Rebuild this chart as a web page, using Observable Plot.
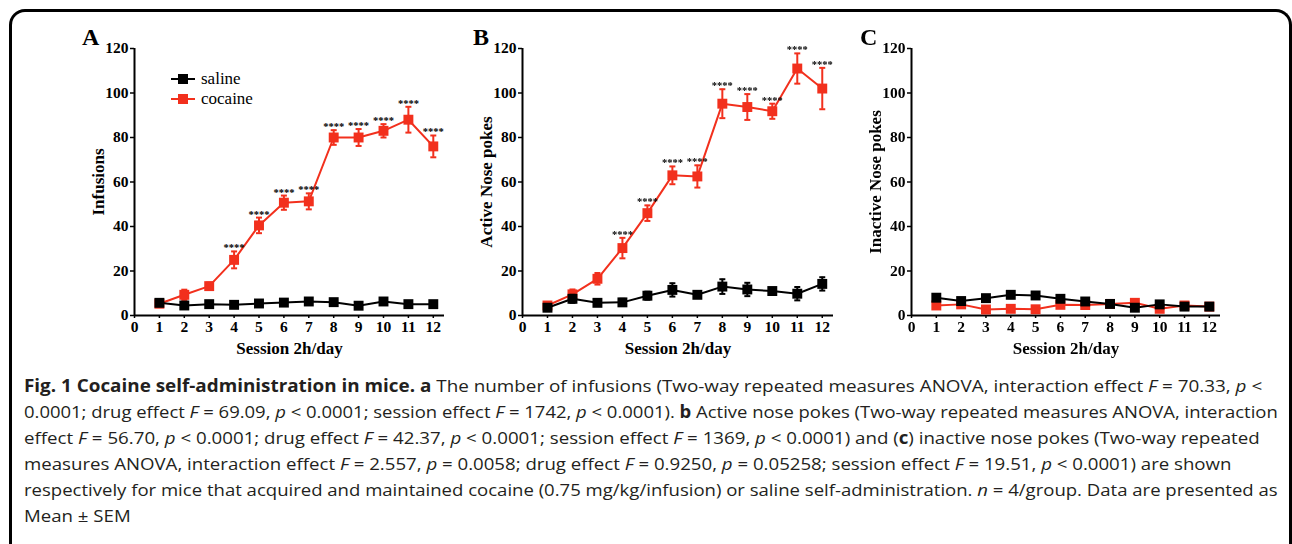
<!DOCTYPE html>
<html>
<head>
<meta charset="utf-8">
<script src="https://cdn.jsdelivr.net/npm/d3@7"></script>
<script src="https://cdn.jsdelivr.net/npm/@observablehq/plot@0.6"></script>
<style>
  html, body { margin: 0; padding: 0; background: #fff; }
  body { width: 1292px; height: 544px; position: relative; overflow: hidden; }
  #frame { position: absolute; left: 9px; top: 9px; width: 1277px; height: 600px;
    border: 3px solid #000; border-bottom: none; border-radius: 16px 16px 0 0; }
  .panel { position: absolute; top: 0; }
  .letter { position: absolute; font: bold 24px "Liberation Serif", serif; color: #000; }
  .legend { position: absolute; font: 17px "Liberation Serif", serif; color: #000; display: flex; align-items: center; height: 20px; }
  .legend .sw { position: relative; width: 24px; height: 20px; margin-right: 6px; }
  .legend .sw .ln { position: absolute; left: 0; right: 0; top: 9px; height: 2px; }
  .legend .sw .sq { position: absolute; left: 7px; top: 5px; width: 10px; height: 10px; }
  #caption { position: absolute; left: 24px; top: 373px; font-family: "Open Sans", sans-serif; font-size: 17px; line-height: 26px; color: #231f20; white-space: nowrap; }
  #caption .cl { display: block; height: 26px; }
  #caption .cl span.t { display: inline-block; transform-origin: 0 50%; }
  .stars { opacity: 0.99; }
</style>
</head>
<body>
<div id="frame"></div>
<div id="caption"></div>
<script>
const sessions = [1, 2, 3, 4, 5, 6, 7, 8, 9, 10, 11, 12];
const xTicks = [0, 1, 2, 3, 4, 5, 6, 7, 8, 9, 10, 11, 12];
const yTicks = [0, 20, 40, 60, 80, 100, 120];
const groups = ["saline", "cocaine"];
const colors = ["#000000", "#f2301d"];

// Panel A: infusions
const infSalineMean  = [5.7, 4.5, 5.1, 4.8, 5.4, 5.8, 6.3, 6.0, 4.4, 6.3, 5.1, 5.1];
const infSalineSem   = [1.0, 0.8, 0.8, 0.7, 0.8, 0.8, 0.9, 0.8, 0.8, 1.0, 0.8, 0.8];
const infCocaineMean = [5.3, 9.3, 13.2, 25.0, 40.5, 50.7, 51.3, 80.0, 80.0, 83.0, 88.0, 76.0];
const infCocaineSem  = [0.8, 2.3, 1.6, 3.8, 3.5, 3.2, 3.6, 3.3, 3.8, 3.0, 5.8, 4.9];
// Panel B: active nose pokes
const actSalineMean  = [3.5, 7.5, 5.7, 5.9, 8.9, 11.5, 9.3, 13.0, 11.7, 11.0, 9.8, 14.2];
const actSalineSem   = [1.5, 1.8, 1.0, 1.6, 1.8, 3.0, 1.3, 3.3, 3.0, 1.3, 3.0, 3.0];
const actCocaineMean = [4.5, 9.5, 16.5, 30.3, 46.0, 63.0, 62.5, 95.2, 93.7, 91.8, 111.0, 102.0];
const actCocaineSem  = [1.0, 2.2, 2.6, 4.6, 3.5, 4.0, 5.0, 6.5, 5.8, 3.4, 6.8, 9.3];
// Panel C: inactive nose pokes
const inaSalineMean  = [8.0, 6.5, 7.8, 9.3, 9.0, 7.5, 6.3, 5.2, 3.5, 5.0, 4.0, 4.0];
const inaSalineSem   = [1.3, 0.9, 0.9, 1.5, 1.4, 1.0, 1.0, 0.8, 1.2, 1.0, 1.0, 0.8];
const inaCocaineMean = [4.5, 5.0, 2.7, 3.0, 2.8, 4.8, 4.7, 5.2, 5.7, 3.0, 4.5, 4.0];
const inaCocaineSem  = [0.9, 0.8, 0.6, 0.6, 0.6, 0.8, 0.8, 0.7, 0.8, 0.7, 0.7, 0.6];

const sigSessionsA = [4, 5, 6, 7, 8, 9, 10, 11, 12];
const sigSessionsB = [4, 5, 6, 7, 8, 9, 10, 11, 12];
const sigSessionsC = [];
const sigLabel = "****";

const panelLetters = ["A", "B", "C"];
const yLabels = ["Infusions", "Active Nose pokes", "Inactive Nose pokes"];
const xLabel = "Session 2h/day";

const captionLines = [
  `<b>Fig. 1 Cocaine self-administration in mice.</b> <b>a</b> The number of infusions (Two-way repeated measures ANOVA, interaction effect <i>F</i> = 70.33, <i>p</i> &lt;`,
  `0.0001; drug effect <i>F</i> = 69.09, <i>p</i> &lt; 0.0001; session effect <i>F</i> = 1742, <i>p</i> &lt; 0.0001). <b>b</b> Active nose pokes (Two-way repeated measures ANOVA, interaction`,
  `effect <i>F</i> = 56.70, <i>p</i> &lt; 0.0001; drug effect <i>F</i> = 42.37, <i>p</i> &lt; 0.0001; session effect <i>F</i> = 1369, <i>p</i> &lt; 0.0001) and (<b>c</b>) inactive nose pokes (Two-way repeated`,
  `measures ANOVA, interaction effect <i>F</i> = 2.557, <i>p</i> = 0.0058; drug effect <i>F</i> = 0.9250, <i>p</i> = 0.05258; session effect <i>F</i> = 19.51, <i>p</i> &lt; 0.0001) are shown`,
  `respectively for mice that acquired and maintained cocaine (0.75 mg/kg/infusion) or saline self-administration. <i>n</i> = 4/group. Data are presented as`,
  `Mean ± SEM`
];

// layout (style) settings for the caption lines: right end of each fitted line
const captionLayout = { left: 24, fitEnd: [1262, 1278, 1260, null, 1278, null] };

function rows(group, means, sems) {
  return sessions.map((s, i) => ({ session: s, group, mean: means[i], sem: sems[i] }));
}

const capSymbol = {
  draw(context, size) {
    const r = Math.sqrt(size / Math.PI);
    context.moveTo(-r, 0);
    context.lineTo(r, 0);
  }
};

function seriesMarks(data, color) {
  return [
    Plot.ruleX(data, { x: "session", y1: d => d.mean - d.sem, y2: d => d.mean + d.sem, stroke: color, strokeWidth: 2 }),
    Plot.dot(data, { x: "session", y: d => d.mean + d.sem, symbol: capSymbol, r: 3, stroke: color, strokeWidth: 2 }),
    Plot.dot(data, { x: "session", y: d => d.mean - d.sem, symbol: capSymbol, r: 3, stroke: color, strokeWidth: 2 }),
    Plot.line(data, { x: "session", y: "mean", stroke: color, strokeWidth: 2 }),
    Plot.dot(data, { x: "session", y: "mean", symbol: "square", r: 5.6, fill: color })
  ];
}

const panels = [
  { left: 40, ml: 94, mr: 16, sal: rows("saline", infSalineMean, infSalineSem), coc: rows("cocaine", infCocaineMean, infCocaineSem), sig: sigSessionsA },
  { left: 430, ml: 92, mr: 17, sal: rows("saline", actSalineMean, actSalineSem), coc: rows("cocaine", actCocaineMean, actCocaineSem), sig: sigSessionsB },
  { left: 820, ml: 91, mr: 20, sal: rows("saline", inaSalineMean, inaSalineSem), coc: rows("cocaine", inaCocaineMean, inaCocaineSem), sig: sigSessionsC }
];

panels.forEach((p, k) => {
  const sigRows = p.coc.filter(d => p.sig.includes(d.session));
  const chart = Plot.plot({
    width: 420,
    height: 360,
    marginLeft: p.ml,
    marginRight: p.mr,
    marginTop: 48,
    marginBottom: 45,
    style: { fontFamily: "'Liberation Serif', serif", fontWeight: "bold", fontSize: "15px", color: "#000", background: "transparent", overflow: "visible" },
    x: { domain: [0, 12.45] },
    y: { domain: [0, 120] },
    marks: [
      Plot.axisY({ ticks: yTicks, tickSize: 4, tickPadding: 2, strokeWidth: 1.5, fontSize: 15.5, label: null }),
      Plot.axisX({ ticks: xTicks, tickSize: 3, tickPadding: 2, strokeWidth: 1.5, fontSize: 15.5, tickFormat: d => String(d), label: null }),
      Plot.text([yLabels[k]], { text: d => d, frameAnchor: "left", textAnchor: "middle", lineAnchor: "middle", rotate: -90, dx: -36, fontSize: 17, fontWeight: "bold", fill: "#000" }),
      Plot.text([xLabel], { text: d => d, frameAnchor: "bottom", textAnchor: "middle", lineAnchor: "middle", dy: 33, fontSize: 17, fontWeight: "bold", fill: "#000" }),
      Plot.ruleY([0], { stroke: "#000", strokeWidth: 2 }),
      Plot.ruleX([0], { stroke: "#000", strokeWidth: 2 }),
      ...seriesMarks(p.coc, colors[1]),
      ...seriesMarks(p.sal, colors[0]),
      Plot.text(sigRows, { x: "session", y: d => d.mean + d.sem, text: () => sigLabel, lineAnchor: "bottom", dy: 0, fontSize: 10.5, fontWeight: "bold", fill: "#000", className: "stars" })
    ]
  });
  chart.classList.add("panel");
  chart.style.left = p.left + "px";
  document.body.appendChild(chart);

  const letter = document.createElement("div");
  letter.className = "letter";
  letter.textContent = panelLetters[k];
  letter.style.left = [82, 473, 860][k] + "px";
  letter.style.top = "24px";
  document.body.appendChild(letter);
});

// legend for panel A
groups.forEach((g, i) => {
  const el = document.createElement("div");
  el.className = "legend";
  el.style.left = "171px";
  el.style.top = (69 + i * 20) + "px";
  el.innerHTML = `<span class="sw"><span class="ln" style="background:${colors[i]}"></span><span class="sq" style="background:${colors[i]}"></span></span>${g}`;
  document.body.appendChild(el);
});

// caption: each full line is fitted to its width with a horizontal scale
const cap = document.getElementById("caption");
cap.innerHTML = captionLines.map(l => `<div class="cl"><span class="t">${l}</span></div>`).join("");
const spans = Array.from(cap.querySelectorAll("span.t"));
const scales = spans.map((span, i) => {
  const end = captionLayout.fitEnd[i];
  return end == null ? null : (end - captionLayout.left) / span.offsetWidth;
});
const fitted = scales.filter(s => s != null);
const meanScale = fitted.reduce((a, b) => a + b, 0) / fitted.length;
spans.forEach((span, i) => {
  span.style.transform = `scaleX(${(scales[i] ?? meanScale).toFixed(4)})`;
});
</script>
</body>
</html>
